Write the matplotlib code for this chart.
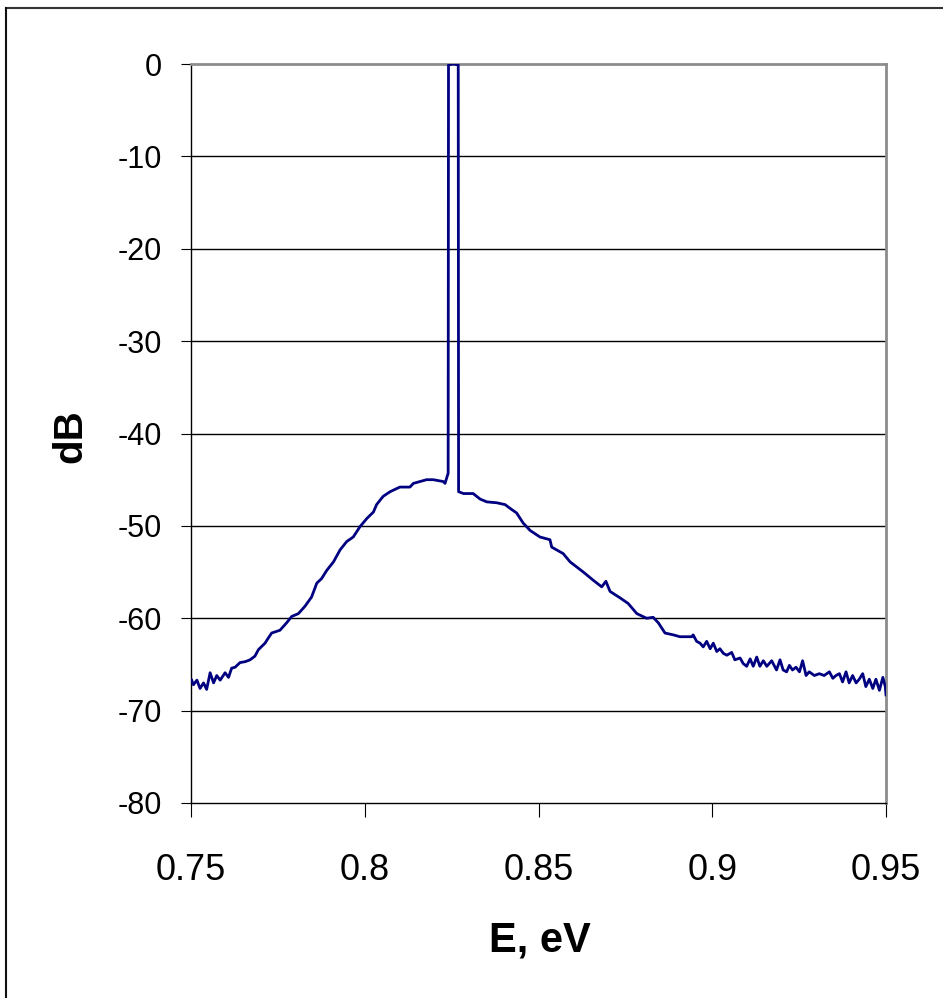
import matplotlib
matplotlib.use("Agg")
import matplotlib.pyplot as plt
from matplotlib.lines import Line2D

plt.rcParams["font.family"] = ["Liberation Sans", "DejaVu Sans"]

# photon energy (eV) and spectrum level (dB)
energy_ev = [
    0.7502, 0.7507, 0.7517, 0.7526, 0.7536, 0.7545, 0.7555, 0.7565, 0.7574,
    0.7584, 0.7598, 0.7608, 0.7617, 0.7627, 0.7641, 0.7656, 0.7670, 0.7684,
    0.7694, 0.7713, 0.7718, 0.7732, 0.7756, 0.7775, 0.7790, 0.7809, 0.7828,
    0.7847, 0.7862, 0.7876, 0.7891, 0.7910, 0.7929, 0.7948, 0.7967, 0.7986,
    0.8006, 0.8025, 0.8034, 0.8053, 0.8073, 0.8101, 0.8130, 0.8140, 0.8159,
    0.8178, 0.8197, 0.8226, 0.8231, 0.8240, 0.8241, 0.8255, 0.8269, 0.8270,
    0.8284, 0.8312, 0.8332, 0.8351, 0.8380, 0.8404, 0.8418, 0.8437, 0.8456,
    0.8476, 0.8504, 0.8533, 0.8538, 0.8571, 0.8591, 0.8629, 0.8658, 0.8682,
    0.8694, 0.8706, 0.8735, 0.8758, 0.8783, 0.8811, 0.8830, 0.8845, 0.8864,
    0.8888, 0.8907, 0.8926, 0.8941, 0.8945, 0.8955, 0.8965, 0.8974, 0.8984,
    0.8994, 0.9003, 0.9013, 0.9022, 0.9032, 0.9042, 0.9056, 0.9065, 0.9080,
    0.9089, 0.9099, 0.9109, 0.9118, 0.9128, 0.9137, 0.9147, 0.9157, 0.9171,
    0.9185, 0.9195, 0.9204, 0.9214, 0.9222, 0.9231, 0.9241, 0.9251, 0.9260,
    0.9270, 0.9279, 0.9294, 0.9308, 0.9322, 0.9337, 0.9347, 0.9356, 0.9366,
    0.9375, 0.9385, 0.9394, 0.9404, 0.9414, 0.9423, 0.9433, 0.9442, 0.9452,
    0.9462, 0.9471, 0.9481, 0.9491, 0.9498, 0.9500,
]
level_db = [
    -66.7, -67.2, -66.7, -67.6, -67.0, -67.7, -65.9, -67.0, -66.2,
    -66.7, -65.9, -66.4, -65.4, -65.3, -64.8, -64.7, -64.5, -64.1,
    -63.4, -62.7, -62.4, -61.6, -61.3, -60.5, -59.8, -59.5, -58.7,
    -57.7, -56.2, -55.7, -54.8, -53.9, -52.6, -51.7, -51.2, -50.1,
    -49.2, -48.5, -47.7, -46.8, -46.3, -45.8, -45.8, -45.4, -45.2,
    -45.0, -45.0, -45.2, -45.4, -44.3, -0.1, 0.0, -0.1, -46.3,
    -46.5, -46.5, -47.1, -47.4, -47.5, -47.7, -48.1, -48.6, -49.7,
    -50.5, -51.2, -51.5, -52.3, -53.0, -53.9, -55.0, -55.9, -56.6,
    -56.0, -57.1, -57.8, -58.4, -59.5, -60.0, -59.9, -60.5, -61.6,
    -61.8, -62.0, -62.0, -62.0, -61.8, -62.5, -62.7, -63.1, -62.5,
    -63.3, -62.7, -63.6, -63.3, -63.8, -64.0, -63.7, -64.5, -64.3,
    -64.9, -65.2, -64.4, -65.2, -64.2, -65.2, -64.6, -65.2, -64.6,
    -65.6, -64.5, -65.6, -65.8, -65.1, -65.6, -65.3, -65.8, -64.6,
    -66.2, -65.8, -66.2, -66.0, -66.2, -65.8, -66.5, -66.2, -66.0,
    -66.9, -65.8, -67.0, -66.2, -67.0, -66.6, -66.0, -67.4, -66.6,
    -67.6, -66.6, -67.8, -66.4, -67.4, -68.3,
]

x_ticks = [0.75, 0.8, 0.85, 0.9, 0.95]
x_tick_labels = ["0.75", "0.8", "0.85", "0.9", "0.95"]
y_ticks = [0, -10, -20, -30, -40, -50, -60, -70, -80]

W, H = 943, 998
fig = plt.figure(figsize=(W / 100, H / 100), dpi=100)
ax = fig.add_axes([191 / W, 1 - 803 / H, (886 - 191) / W, (803 - 64) / H])

for y in y_ticks[1:-1]:
    ax.axhline(y, color="black", linewidth=1.0, zorder=1)

ax.plot(energy_ev, level_db, color="#000080", linewidth=2.0, zorder=3)

ax.set_xlim(0.75, 0.95)
ax.set_ylim(-80, 0)
ax.set_xticks(x_ticks)
ax.set_xticklabels(x_tick_labels)
ax.set_yticks(y_ticks)
ax.set_yticklabels([str(v) for v in y_ticks])

for side in ("left", "bottom"):
    ax.spines[side].set_color("black")
    ax.spines[side].set_linewidth(1.0)
for side in ("top", "right"):
    ax.spines[side].set_color("#8c8c8c")
    ax.spines[side].set_linewidth(2.0)

ax.tick_params(axis="x", direction="out", length=10, width=0.8,
               labelsize=26, pad=26)
ax.tick_params(axis="y", direction="out", length=7, width=0.8,
               labelsize=22, pad=14)

fig.text(540 / W, 1 - 940 / H, "E, eV", fontsize=30, fontweight="bold",
         ha="center", va="center")
fig.text(70 / W, 1 - 436 / H, "dB", fontsize=29, fontweight="bold",
         rotation=90, ha="center", va="center")

# outer chart frame (only the top and left edges are inside the image)
fig.add_artist(Line2D([6 / W, 1.0], [1 - 8 / H, 1 - 8 / H],
                      transform=fig.transFigure, color="#333333", lw=1.5))
fig.add_artist(Line2D([6 / W, 6 / W], [0.0, 1 - 8 / H],
                      transform=fig.transFigure, color="#111111", lw=1.5))

fig.savefig("out.png", dpi=100)
